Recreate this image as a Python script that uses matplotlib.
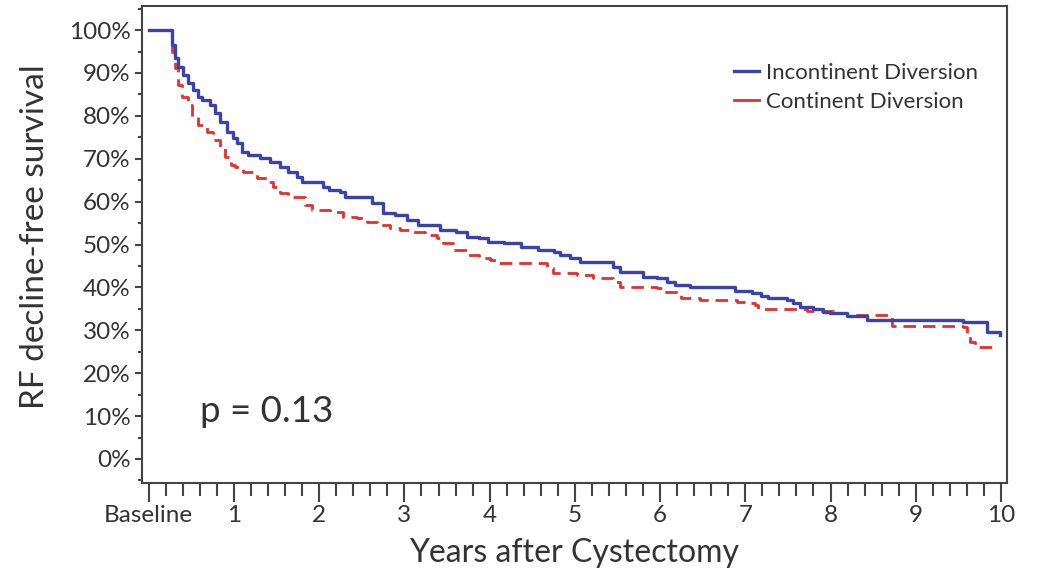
import numpy as np
import matplotlib
matplotlib.use("Agg")
import matplotlib.pyplot as plt
from matplotlib.ticker import MultipleLocator, FuncFormatter

plt.rcParams['font.family'] = ['Lato', 'DejaVu Sans']

# Kaplan-Meier step points (years, % free of RF decline)
t_incont = [0, 0.27, 0.31, 0.34, 0.40, 0.46, 0.52, 0.58, 0.63, 0.72, 0.78, 0.83,
            0.92, 0.99, 1.04, 1.09, 1.17, 1.30, 1.42, 1.54, 1.63, 1.74, 1.80, 2.04,
            2.12, 2.24, 2.30, 2.62, 2.75, 2.89, 3.03, 3.16, 3.42, 3.61, 3.73, 3.88,
            3.98, 4.17, 4.37, 4.57, 4.75, 4.82, 4.94, 5.06, 5.45, 5.53, 5.80, 5.96,
            6.08, 6.17, 6.35, 6.88, 7.08, 7.19, 7.27, 7.49, 7.56, 7.64, 7.79, 7.91,
            7.99, 8.19, 8.43, 9.55, 9.84, 9.99]
s_incont = [100, 96.5, 93.5, 91.4, 89.5, 87.6, 86.0, 84.4, 83.7, 82.5, 80.7, 78.6,
            76.2, 74.8, 73.7, 71.6, 70.9, 70.2, 69.2, 68.1, 66.9, 65.7, 64.6, 63.4,
            62.7, 62.2, 61.0, 59.7, 57.3, 56.9, 55.7, 54.5, 53.4, 52.9, 51.7, 51.5,
            50.6, 50.3, 49.4, 48.7, 48.3, 47.6, 46.9, 45.9, 44.8, 43.6, 42.4, 42.2,
            41.3, 40.6, 40.1, 39.2, 38.7, 38.0, 37.5, 37.1, 36.4, 35.4, 35.0, 34.3,
            34.0, 33.3, 32.4, 31.9, 29.6, 28.9]

t_cont = [0, 0.27, 0.31, 0.34, 0.39, 0.46, 0.51, 0.58, 0.68, 0.75, 0.83, 0.89,
          0.97, 1.01, 1.10, 1.27, 1.39, 1.46, 1.54, 1.63, 1.83, 1.92, 2.13, 2.28,
          2.44, 2.56, 2.68, 2.83, 2.95, 3.10, 3.24, 3.38, 3.45, 3.57, 3.73, 3.88,
          4.00, 4.08, 4.67, 4.74, 5.02, 5.21, 5.45, 5.53, 5.96, 6.02, 6.25, 6.47,
          6.90, 7.02, 7.11, 7.15, 7.72, 8.03, 8.19, 8.58, 8.72, 9.55, 9.60, 9.64,
          9.70, 9.93]
s_cont = [100, 94.9, 91.1, 87.2, 84.4, 82.5, 79.7, 77.9, 76.2, 74.4, 72.5, 70.4,
          68.5, 68.1, 66.9, 65.5, 64.6, 63.4, 62.0, 61.0, 59.2, 58.0, 57.6, 56.4,
          56.2, 55.2, 54.5, 53.8, 53.4, 52.9, 52.2, 51.5, 50.3, 48.7, 47.6, 46.9,
          46.4, 45.7, 44.5, 43.4, 42.9, 42.2, 41.3, 40.1, 39.9, 38.9, 37.5, 37.1,
          36.6, 36.4, 35.9, 35.0, 34.5, 34.0, 33.6, 33.6, 31.0, 30.8, 29.4, 27.3,
          26.1, 26.1]

xticks = list(range(0, 11))
xticklabels = ['Baseline'] + [str(i) for i in range(1, 11)]
p_text = 'p = 0.13'

fig = plt.figure(figsize=(10.4, 5.76), dpi=100)
ax = fig.add_axes([0.1365, 0.1615, 0.8317, 0.828])

ax.step(t_incont, s_incont, where='post', color='#3a44a8', lw=2.4,
        label='Incontinent Diversion', zorder=3)
ax.step(t_cont, s_cont, where='post', color='#e3302f', lw=2.0,
        linestyle=(0, (4.5, 2.5)), label='Continent Diversion', zorder=2)

ax.set_xlim(-0.08, 10.07)
ax.set_ylim(-5.6, 105.6)

ax.set_xticks(xticks)
ax.set_xticklabels(xticklabels)
ax.xaxis.set_minor_locator(MultipleLocator(0.2))
ax.yaxis.set_minor_locator(MultipleLocator(5))
ax.set_yticks(np.arange(0, 101, 10))
ax.yaxis.set_major_formatter(FuncFormatter(lambda v, p: '%d%%' % v))

for s in ax.spines.values():
    s.set_color('#444444')
    s.set_linewidth(1.5)

ax.tick_params(axis='x', which='major', length=14, width=1.5, color='#444444',
               labelsize=17.5, labelcolor='#333333', pad=2)
ax.tick_params(axis='x', which='minor', length=9, width=1.5, color='#444444')
ax.tick_params(axis='y', which='major', length=5, width=1.5, color='#444444',
               labelsize=17.5, labelcolor='#333333', pad=3)
ax.tick_params(axis='y', which='minor', length=3, width=1.5, color='#444444')

ax.set_ylabel('RF decline-free survival', fontsize=24, color='#333333')
ax.set_xlabel('Years after Cystectomy', fontsize=23, color='#333333')
ax.yaxis.set_label_coords(-0.124, 0.516)
ax.xaxis.set_label_coords(0.5, -0.147)
ax.yaxis.label.set_va('center')
ax.xaxis.label.set_va('center')

ax.text(0.6, 11, p_text, fontsize=26.5, color='#333333', va='center')

leg = ax.legend(loc='upper left', bbox_to_anchor=(0.674, 0.900), frameon=False,
                fontsize=16, handlelength=1.15, handletextpad=0.3, labelspacing=0.42,
                borderaxespad=0)
for t in leg.get_texts():
    t.set_color('#333333')
for h in leg.get_lines():
    h.set_linestyle('-')

fig.savefig('out.png', dpi=100)
